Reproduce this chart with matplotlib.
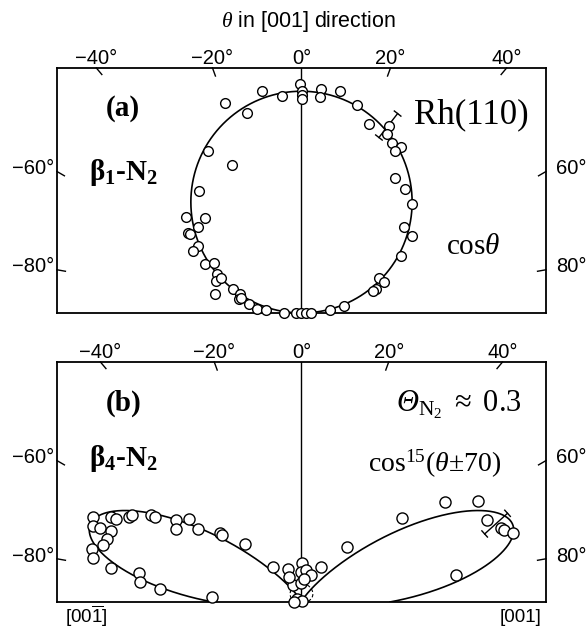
import numpy as np
import matplotlib.pyplot as plt

plt.rcParams['mathtext.fontset'] = 'custom'
plt.rcParams['mathtext.rm'] = 'Liberation Serif'
plt.rcParams['mathtext.it'] = 'Liberation Serif:italic'
plt.rcParams['mathtext.bf'] = 'Liberation Serif:bold'
plt.rcParams['mathtext.sf'] = 'Liberation Sans'

SERIF = 'Liberation Serif'
SANS = 'Liberation Sans'

#%% data
# points in the plane of the polar plot: x = r*sin(theta), y = r*cos(theta)
xa = [-0.161, -0.079, -0.314, -0.221, -0.005, 0.003, 0.003, 0.003, -0.383, -0.286,
      -0.420, -0.474, -0.393, -0.422, -0.465, -0.458, -0.425, -0.442, -0.393, -0.359,
      -0.345, -0.349, -0.331, -0.353, -0.281, -0.251, -0.254, -0.248, -0.213, -0.181,
      -0.144, -0.070, -0.022, -0.001, 0.019, 0.040,
      0.081, 0.076, 0.158, 0.226, 0.278, 0.357, 0.351, 0.371, 0.408, 0.384,
      0.384, 0.422, 0.453, 0.420, 0.450, 0.406, 0.319, 0.339, 0.306, 0.292,
      0.172, 0.115]
ya = [0.905, 0.885, 0.856, 0.817, 0.935, 0.908, 0.888, 0.874, 0.660, 0.605,
      0.496, 0.390, 0.387, 0.349, 0.328, 0.323, 0.274, 0.251, 0.199, 0.202,
      0.158, 0.131, 0.144, 0.076, 0.097, 0.076, 0.056, 0.060, 0.036, 0.018,
      0.011, 0.001, 0.0, 0.0, 0.0, 0.0,
      0.915, 0.883, 0.908, 0.847, 0.772, 0.765, 0.731, 0.692, 0.676, 0.660,
      0.549, 0.506, 0.445, 0.349, 0.315, 0.233, 0.144, 0.127, 0.097, 0.090,
      0.029, 0.011]

xb = [-0.854, -0.854, -0.826, -0.781, -0.758, -0.706, -0.692, -0.615, -0.601, -0.512,
      -0.515, -0.462, -0.424, -0.335, -0.324, -0.233, -0.778, -0.796, -0.813, -0.856,
      -0.854, -0.778, -0.663, -0.660, -0.578, -0.365, -0.117, -0.056,
      0.003, -0.001, 0.019, 0.040, 0.081, -0.036, -0.001, -0.019, 0.003, -0.029,
      -0.050, 0.010,
      0.185, 0.412, 0.585, 0.721, 0.760, 0.817, 0.830, 0.867, 0.633]
yb = [0.346, 0.311, 0.301, 0.346, 0.338, 0.346, 0.356, 0.356, 0.346, 0.335,
      0.297, 0.338, 0.297, 0.283, 0.274, 0.237, 0.288, 0.256, 0.233, 0.216,
      0.179, 0.140, 0.120, 0.083, 0.052, 0.022, 0.144, 0.134,
      0.161, 0.124, 0.131, 0.110, 0.142, 0.070, 0.076, 0.011, 0.005, 0.001,
      0.100, 0.095,
      0.224, 0.342, 0.410, 0.414, 0.335, 0.301, 0.294, 0.283, 0.110]

# fitted distributions
amp_a = 0.905            # cos(theta)
amp_b = 0.92             # cos^15(theta -+ 70)
power_b, peak_b = 15, 70
amp_dash = 0.075

# single error bars: x, y, half length
err_a = (0.355, 0.765, 0.062)
err_b = (0.796, 0.320, 0.063)

top_ticks = [-40, -20, 0, 20, 40]
side_ticks = [60, 80]
TICK_FS = 14.5


def angle_frame(ax, ymax):
    L = 0.035
    for t in top_ticks:
        a = np.radians(t)
        x = ymax * np.tan(a)
        if t != 0:
            ax.plot([x, x - L * np.sin(a)], [ymax, ymax - L * np.cos(a)],
                    color='k', lw=1, clip_on=False)
        lab = ('\u2212' if t < 0 else '') + '%d\u00b0' % abs(t)
        ax.annotate(lab, (x, ymax), xytext=(0, 0), textcoords='offset points',
                    ha='center', va='bottom', fontsize=TICK_FS, family=SANS,
                    annotation_clip=False)
    for t in side_ticks:
        a = np.radians(t)
        y = 1 / np.tan(a)
        for s in (-1, 1):
            ax.plot([s, s - s * L * np.sin(a)], [y, y - L * np.cos(a)],
                    color='k', lw=1, clip_on=False)
        ax.annotate('\u2212%d\u00b0' % t, (-1, y), xytext=(-2, 2), textcoords='offset points',
                    ha='right', va='center', fontsize=TICK_FS, family=SANS,
                    annotation_clip=False)
        ax.annotate('%d\u00b0' % t, (1, y), xytext=(7, 2), textcoords='offset points',
                    ha='left', va='center', fontsize=TICK_FS, family=SANS,
                    annotation_clip=False)
    ax.plot([0, 0], [0, ymax], color='k', lw=1)
    ax.set_xlim(-1, 1)
    ax.set_ylim(0, ymax)
    ax.set_xticks([])
    ax.set_yticks([])
    for sp in ax.spines.values():
        sp.set_linewidth(1.3)


def err_bar(ax, x, y, half, ang):
    a = np.radians(ang)
    dx, dy = half * np.cos(a), half * np.sin(a)
    cx, cy = 0.017 * np.sin(a), -0.017 * np.cos(a)
    ax.plot([x - dx, x + dx], [y - dy, y + dy], color='k', lw=1, zorder=4)
    for s in (-1, 1):
        ax.plot([x + s * dx - cx, x + s * dx + cx], [y + s * dy - cy, y + s * dy + cy],
                color='k', lw=1, zorder=4)


fig = plt.figure(figsize=(5.87, 6.31), dpi=100)
ax1 = fig.add_axes([0.0971, 0.5040, 0.8330, 0.3883])
ax2 = fig.add_axes([0.0971, 0.0460, 0.8330, 0.3803])

th = np.radians(np.linspace(-90, 90, 1441))

#%% (a)
angle_frame(ax1, 1.0)
r = amp_a * np.cos(th)
ax1.plot(r * np.sin(th), r * np.cos(th), color='k', lw=1.2, zorder=2)
err_bar(ax1, *err_a, 52)
ax1.plot(xa, ya, 'o', ms=7, mfc='white', mec='k', mew=1.0, zorder=5, clip_on=False)
ax1.text(-0.73, 0.834, '(a)', family=SERIF, weight='bold', fontsize=21, ha='center', va='center')
ax1.text(-0.73, 0.573, r'$\mathbf{\beta_1}$-N$_\mathbf{2}$', family=SERIF, weight='bold',
         fontsize=21, ha='center', va='center')
ax1.text(0.695, 0.81, 'Rh(110)', family=SERIF, fontsize=25, ha='center', va='center')
ax1.text(0.703, 0.27, r'cos$\theta$', family=SERIF, fontsize=21, ha='center', va='center')

#%% (b)
angle_frame(ax2, 0.98)
cp = np.clip(np.cos(th - np.radians(peak_b)), 0, None) ** power_b
cm = np.clip(np.cos(th + np.radians(peak_b)), 0, None) ** power_b
r = amp_b * (cp + cm)
ax2.plot(r * np.sin(th), r * np.cos(th), color='k', lw=1.2, zorder=2)
rd = amp_dash * np.sqrt(np.cos(th))
ax2.plot(rd * np.sin(th), rd * np.cos(th), color='k', lw=0.8, ls=(0, (3, 2)), zorder=2)
err_bar(ax2, *err_b, 42)
ax2.plot(xb, yb, 'o', ms=8, mfc='white', mec='k', mew=1.0, zorder=5, clip_on=False)
ax2.text(-0.728, 0.81, '(b)', family=SERIF, weight='bold', fontsize=21, ha='center', va='center')
ax2.text(-0.73, 0.585, r'$\mathbf{\beta_4}$-N$_\mathbf{2}$', family=SERIF, weight='bold',
         fontsize=21, ha='center', va='center')
ax2.text(0.642, 0.806, '\u0398' + r'$_{\mathrm{N}_2}\ \mathrm{\approx\ 0.3}$', family=SERIF,
         style='italic', fontsize=22, ha='center', va='center')
ax2.text(0.544, 0.564, r'cos$^{15}$($\theta$$\pm$70)', family=SERIF, fontsize=20,
         ha='center', va='center')
ax2.text(-0.88, -0.058, r'[00$\overline{\mathsf{1}}$]', family=SANS, fontsize=13.5,
         ha='center', va='center')
ax2.text(0.896, -0.062, '[001]', family=SANS, fontsize=13.5, ha='center', va='center')

fig.text(308 / 587, 1 - 22 / 631, r'$\theta$ in [001] direction', family=SANS, fontsize=15.5,
         ha='center', va='center')

fig.savefig('out.png', dpi=100)
